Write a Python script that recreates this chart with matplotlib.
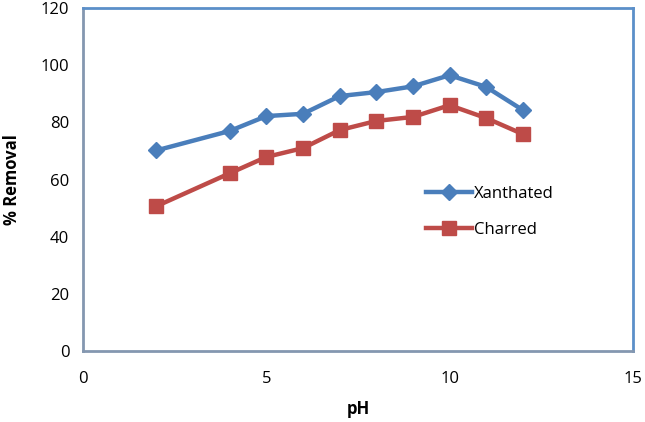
import matplotlib.pyplot as plt
import numpy as np

plt.rcParams['font.family'] = ['Open Sans', 'DejaVu Sans']

ph = [2, 4, 5, 6, 7, 8, 9, 10, 11, 12]
xanthated = [70.2, 77.0, 82.2, 83.0, 89.2, 90.6, 92.6, 96.5, 92.4, 84.3]
charred = [50.7, 62.2, 67.9, 71.0, 77.3, 80.5, 81.9, 86.0, 81.5, 75.9]

fig = plt.figure(figsize=(6.45, 4.22), dpi=100)
ax = fig.add_axes([0.129, 0.168, 0.852, 0.813])

ax.plot(ph, xanthated, color='#4a7ebb', lw=3.2, marker='D', ms=8, label='Xanthated')
ax.plot(ph, charred, color='#be4b48', lw=3.2, marker='s', ms=10, label='Charred')

ax.set_xlim(0, 15)
ax.set_ylim(0, 120)
ax.set_xticks([0, 5, 10, 15])
ax.set_yticks(np.arange(0, 121, 20))
ax.tick_params(length=0, labelsize=12, pad=14)
ax.tick_params(axis='y', pad=10)

for side in ['left', 'bottom']:
    ax.spines[side].set_color('#8497b0')
for side in ['top', 'right']:
    ax.spines[side].set_color('#5b8fc9')
for s in ax.spines.values():
    s.set_linewidth(2)

ax.set_xlabel('pH', fontsize=12, fontweight='bold', labelpad=10)
ax.set_ylabel('% Removal', fontsize=12, fontweight='bold', labelpad=14)

ax.legend(loc='upper left', bbox_to_anchor=(0.596, 0.525), frameon=False,
          fontsize=12, handlelength=2.8, handletextpad=0.1, labelspacing=1.2)

fig.savefig('out.png', dpi=100)
